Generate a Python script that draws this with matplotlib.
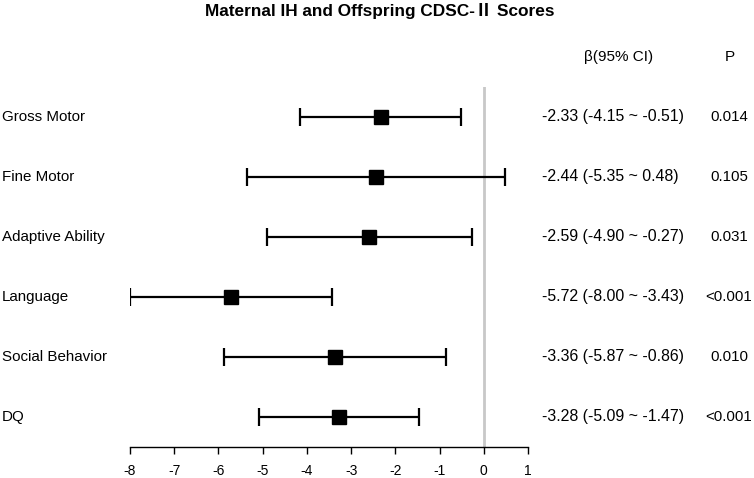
import matplotlib.pyplot as plt
import matplotlib.transforms as mtransforms
import numpy as np

plt.rcParams['font.family'] = ['Liberation Sans', 'DejaVu Sans']

# data
#------------------------------------------------------------------------------
outcomes = ['Gross Motor', 'Fine Motor', 'Adaptive Ability', 'Language',
            'Social Behavior', 'DQ']
beta = np.array([-2.33, -2.44, -2.59, -5.72, -3.36, -3.28])
ci_low = np.array([-4.15, -5.35, -4.90, -8.00, -5.87, -5.09])
ci_high = np.array([-0.51, 0.48, -0.27, -3.43, -0.86, -1.47])
p_values = ['0.014', '0.105', '0.031', '<0.001', '0.010', '<0.001']
x_ticks = [-8, -7, -6, -5, -4, -3, -2, -1, 0, 1]
#------------------------------------------------------------------------------

W, H = 754, 478
fig = plt.figure(figsize=(W / 100, H / 100), dpi=100)
ax = fig.add_axes([130 / W, 1 - 447 / H, (528 - 130) / W, (447 - 87) / H])

ypos = np.arange(len(outcomes))[::-1]
ax.set_xlim(-8, 1)
ax.set_ylim(-0.5, len(outcomes) - 0.5)

ax.axvline(0, color='#c8c8c8', lw=2, zorder=1)
ax.errorbar(beta, ypos, xerr=[beta - ci_low, ci_high - beta], fmt='s',
            color='black', ms=10, capsize=6.5, elinewidth=1.6, capthick=1.6,
            zorder=3)

for s in ['top', 'right', 'left']:
    ax.spines[s].set_visible(False)
ax.spines['bottom'].set_linewidth(1)
ax.set_yticks([])
ax.set_xticks(x_ticks)
ax.set_xticklabels([str(t) for t in x_ticks], fontsize=10)
ax.tick_params(axis='x', length=5, width=1, pad=7)

# labels and columns
trans = mtransforms.blended_transform_factory(fig.transFigure, ax.transData)
for y, name, b, lo, hi, p in zip(ypos, outcomes, beta, ci_low, ci_high, p_values):
    fig.text(2 / W, y, name, transform=trans, fontsize=10.9, va='center', ha='left')
    fig.text(542 / W, y, f'{b:.2f} ({lo:.2f} ~ {hi:.2f})', transform=trans,
             fontsize=11.4, va='center', ha='left')
    fig.text(729 / W, y, p, transform=trans, fontsize=10.8, va='center', ha='center')

top = len(outcomes)
fig.text(619 / W, top, '\u03b2(95% CI)', transform=trans, fontsize=11,
         va='center', ha='center')
fig.text(730 / W, top, 'P', transform=trans, fontsize=11, va='center', ha='center')

fig.text(0.503, 1 - 11 / H, 'Maternal IH and Offspring CDSC-\u2161 Scores',
         fontsize=12.4, fontweight='bold', ha='center', va='center',
         family=['Liberation Sans', 'Noto Sans CJK SC', 'DejaVu Sans'])

fig.savefig('out.png', dpi=100)
